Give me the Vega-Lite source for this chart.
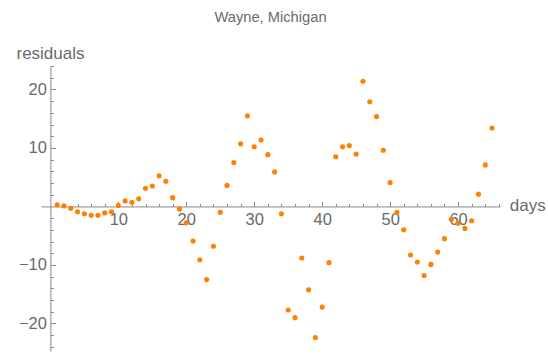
{
  "$schema": "https://vega.github.io/schema/vega-lite/v6.json",
  "width": 459,
  "height": 285,
  "autosize": "none",
  "padding": {"left": 41, "top": 66, "right": 48, "bottom": 5},
  "background": "white",
  "title": {
    "text": "Wayne, Michigan",
    "frame": "group",
    "anchor": "middle",
    "offset": 8,
    "baseline": "alphabetic",
    "fontSize": 14.7,
    "fontWeight": "normal",
    "color": "#6a6a6a",
    "font": "Liberation Sans"
  },
  "config": {
    "view": {"stroke": null},
    "font": "Liberation Sans",
    "axis": {"grid": false}
  },
  "data": {
    "values": [
      {"day": 1, "residual": 0.3}, {"day": 2, "residual": 0.1}, {"day": 3, "residual": -0.3},
      {"day": 4, "residual": -0.9}, {"day": 5, "residual": -1.25}, {"day": 6, "residual": -1.5},
      {"day": 7, "residual": -1.5}, {"day": 8, "residual": -1.1}, {"day": 9, "residual": -0.9},
      {"day": 10, "residual": 0.15}, {"day": 11, "residual": 0.95}, {"day": 12, "residual": 0.7},
      {"day": 13, "residual": 1.3}, {"day": 14, "residual": 3.1}, {"day": 15, "residual": 3.5},
      {"day": 16, "residual": 5.25}, {"day": 17, "residual": 4.3}, {"day": 18, "residual": 1.5},
      {"day": 19, "residual": -0.45}, {"day": 20, "residual": -2.8}, {"day": 21, "residual": -5.9},
      {"day": 22, "residual": -9.1}, {"day": 23, "residual": -12.5}, {"day": 24, "residual": -6.8},
      {"day": 25, "residual": -1.0}, {"day": 26, "residual": 3.6}, {"day": 27, "residual": 7.5},
      {"day": 28, "residual": 10.7}, {"day": 29, "residual": 15.5}, {"day": 30, "residual": 10.2},
      {"day": 31, "residual": 11.35}, {"day": 32, "residual": 8.85}, {"day": 33, "residual": 5.9},
      {"day": 34, "residual": -1.25}, {"day": 35, "residual": -17.7}, {"day": 36, "residual": -19.0},
      {"day": 37, "residual": -8.8}, {"day": 38, "residual": -14.25}, {"day": 39, "residual": -22.4},
      {"day": 40, "residual": -17.2}, {"day": 41, "residual": -9.6}, {"day": 42, "residual": 8.5},
      {"day": 43, "residual": 10.2}, {"day": 44, "residual": 10.4}, {"day": 45, "residual": 8.95},
      {"day": 46, "residual": 21.4}, {"day": 47, "residual": 17.9}, {"day": 48, "residual": 15.35},
      {"day": 49, "residual": 9.6}, {"day": 50, "residual": 4.1}, {"day": 51, "residual": -1.0},
      {"day": 52, "residual": -4.0}, {"day": 53, "residual": -8.3}, {"day": 54, "residual": -9.5},
      {"day": 55, "residual": -11.8}, {"day": 56, "residual": -9.9}, {"day": 57, "residual": -7.8},
      {"day": 58, "residual": -5.5}, {"day": 59, "residual": -2.2}, {"day": 60, "residual": -2.85},
      {"day": 61, "residual": -3.75}, {"day": 62, "residual": -2.45}, {"day": 63, "residual": 2.1},
      {"day": 64, "residual": 7.1}, {"day": 65, "residual": 13.4}
    ]
  },
  "resolve": {"axis": {"x": "independent", "y": "independent"}},
  "layer": [
    {
      "mark": {"type": "point", "filled": true, "opacity": 0},
      "encoding": {
        "x": {
          "field": "day", "type": "quantitative",
          "scale": {"domain": [-1.38, 66.17], "nice": false, "zero": false},
          "axis": {
            "orient": "bottom", "offset": -144.55,
            "values": [2, 4, 6, 8, 12, 14, 16, 18, 22, 24, 26, 28, 32, 34, 36, 38, 42, 44, 46, 48, 52, 54, 56, 58, 62, 64, 66],
            "domain": false, "labels": false, "title": null,
            "tickSize": -3, "tickColor": "#888888", "tickWidth": 1
          }
        },
        "y": {
          "field": "residual", "type": "quantitative",
          "scale": {"domain": [-24.7, 24], "nice": false, "zero": false},
          "axis": {
            "orient": "left", "offset": -9.38,
            "values": [-24, -22, -18, -16, -14, -12, -8, -6, -4, -2, 2, 4, 6, 8, 12, 14, 16, 18, 22, 24],
            "domain": false, "labels": false, "title": null,
            "tickSize": -3, "tickColor": "#888888", "tickWidth": 1
          }
        }
      }
    },
    {
      "mark": {"type": "point", "filled": true, "opacity": 1, "color": "#ff8000", "size": 26},
      "encoding": {
        "x": {
          "field": "day", "type": "quantitative",
          "scale": {"domain": [-1.38, 66.17], "nice": false, "zero": false},
          "axis": {
            "orient": "bottom", "offset": -144.55,
            "values": [10, 20, 30, 40, 50, 60],
            "domainColor": "#888888", "domainWidth": 1,
            "tickSize": -5, "tickColor": "#888888", "tickWidth": 1,
            "labelPadding": 10, "labelFontSize": 16.5, "labelColor": "#6a6a6a",
            "labelFlush": false, "labelOverlap": false,
            "title": "days", "titleX": 468.3, "titleY": 4.3,
            "titleAlign": "left", "titleBaseline": "alphabetic", "titleAngle": 0,
            "titleFontSize": 17, "titleFontWeight": "normal", "titleColor": "#6a6a6a"
          }
        },
        "y": {
          "field": "residual", "type": "quantitative",
          "scale": {"domain": [-24.7, 24], "nice": false, "zero": false},
          "axis": {
            "orient": "left", "offset": -9.38,
            "values": [-20, -10, 10, 20],
            "domainColor": "#888888", "domainWidth": 1,
            "tickSize": -5, "tickColor": "#888888", "tickWidth": 1,
            "labelPadding": 9, "labelFontSize": 16.5, "labelColor": "#6a6a6a",
            "labelFlush": false, "labelOverlap": false,
            "title": "residuals", "titleX": -34.4, "titleY": -7.7,
            "titleAlign": "left", "titleBaseline": "alphabetic", "titleAngle": 0,
            "titleFontSize": 17, "titleFontWeight": "normal", "titleColor": "#6a6a6a"
          }
        }
      }
    }
  ]
}
